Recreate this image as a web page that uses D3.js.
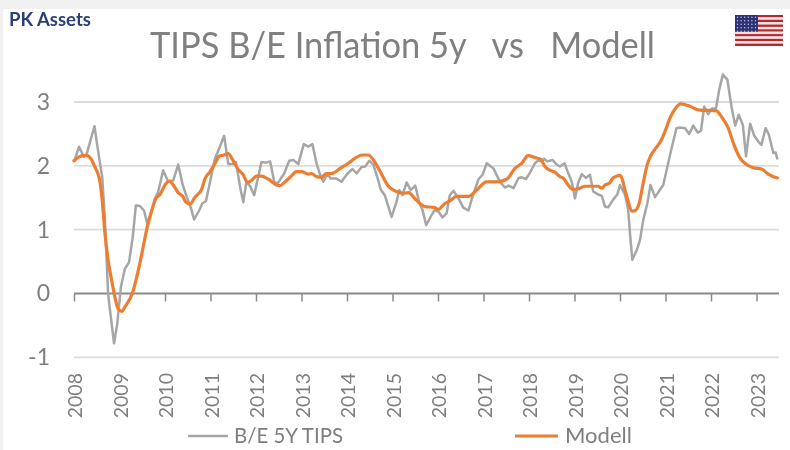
<!DOCTYPE html>
<html><head><meta charset="utf-8">
<script src="https://cdn.jsdelivr.net/npm/d3@7/dist/d3.min.js"></script>
<style>html,body{margin:0;padding:0;background:#fff}svg{display:block;filter:blur(0.35px)}text{font-family:Lato,"Open Sans",sans-serif}</style>
</head><body><svg id="c" width="790" height="450"></svg>
<script>
const yearLabels=[2008,2009,2010,2011,2012,2013,2014,2015,2016,2017,2018,2019,2020,2021,2022,2023];
const valueTicks=[-1,0,1,2,3];
const tipsDates=[2008.00,2008.11,2008.22,2008.28,2008.45,2008.56,2008.62,2008.68,2008.75,2008.81,2008.88,2008.95,2009.03,2009.12,2009.21,2009.29,2009.36,2009.45,2009.54,2009.61,2009.71,2009.78,2009.85,2009.96,2010.07,2010.18,2010.29,2010.39,2010.48,2010.56,2010.64,2010.75,2010.82,2010.90,2010.99,2011.10,2011.19,2011.30,2011.39,2011.49,2011.56,2011.65,2011.72,2011.79,2011.88,2011.96,2012.12,2012.22,2012.31,2012.40,2012.47,2012.62,2012.73,2012.82,2012.93,2013.05,2013.15,2013.24,2013.33,2013.41,2013.48,2013.57,2013.64,2013.77,2013.88,2013.99,2014.12,2014.21,2014.32,2014.40,2014.49,2014.58,2014.67,2014.74,2014.83,2014.98,2015.09,2015.15,2015.22,2015.31,2015.40,2015.50,2015.59,2015.66,2015.74,2015.86,2015.93,2016.01,2016.10,2016.19,2016.26,2016.34,2016.45,2016.56,2016.67,2016.76,2016.89,2016.98,2017.07,2017.22,2017.36,2017.47,2017.55,2017.66,2017.77,2017.84,2017.93,2018.02,2018.13,2018.21,2018.28,2018.33,2018.40,2018.52,2018.61,2018.68,2018.78,2018.86,2018.94,2019.01,2019.08,2019.16,2019.25,2019.34,2019.41,2019.52,2019.60,2019.67,2019.74,2019.85,2019.94,2020.00,2020.11,2020.18,2020.22,2020.27,2020.37,2020.44,2020.51,2020.60,2020.67,2020.77,2020.95,2021.10,2021.24,2021.32,2021.43,2021.52,2021.61,2021.71,2021.78,2021.85,2021.94,2022.02,2022.11,2022.18,2022.26,2022.36,2022.45,2022.53,2022.61,2022.70,2022.77,2022.86,2022.95,2023.04,2023.11,2023.20,2023.27,2023.37,2023.42,2023.46];
const tipsValues=[2.06,2.30,2.14,2.19,2.62,2.09,1.83,1.15,-0.01,-0.37,-0.78,-0.48,0.10,0.39,0.49,0.88,1.38,1.37,1.30,1.09,1.30,1.49,1.59,1.93,1.75,1.77,2.02,1.70,1.51,1.36,1.16,1.30,1.41,1.45,1.75,2.12,2.27,2.47,2.03,2.03,2.06,1.67,1.43,1.75,1.67,1.54,2.06,2.05,2.07,1.75,1.72,1.88,2.08,2.09,2.03,2.34,2.30,2.34,2.04,1.86,1.75,1.88,1.80,1.80,1.75,1.86,1.95,1.88,1.98,1.99,2.08,2.02,1.81,1.63,1.54,1.20,1.44,1.62,1.54,1.74,1.62,1.69,1.42,1.31,1.07,1.23,1.31,1.28,1.19,1.26,1.54,1.61,1.49,1.34,1.30,1.52,1.79,1.86,2.04,1.96,1.75,1.66,1.69,1.65,1.81,1.82,1.79,1.89,2.04,2.09,2.07,2.11,2.07,2.09,2.02,1.99,2.04,1.89,1.75,1.49,1.73,1.87,1.81,1.86,1.60,1.55,1.53,1.36,1.35,1.47,1.55,1.70,1.55,1.31,0.94,0.53,0.68,0.84,1.15,1.41,1.70,1.51,1.70,2.17,2.59,2.60,2.59,2.50,2.63,2.52,2.55,2.93,2.81,2.90,2.90,3.19,3.43,3.35,2.93,2.63,2.80,2.64,2.15,2.66,2.47,2.38,2.33,2.59,2.49,2.20,2.21,2.10];
const modelDates=[2008.00,2008.11,2008.22,2008.28,2008.39,2008.46,2008.56,2008.62,2008.68,2008.75,2008.83,2008.90,2008.97,2009.05,2009.12,2009.29,2009.38,2009.49,2009.61,2009.71,2009.80,2009.89,2010.00,2010.10,2010.18,2010.29,2010.39,2010.46,2010.55,2010.66,2010.81,2010.88,2010.99,2011.10,2011.19,2011.30,2011.39,2011.49,2011.61,2011.72,2011.81,2011.90,2012.01,2012.12,2012.27,2012.45,2012.53,2012.64,2012.75,2012.89,2013.00,2013.15,2013.22,2013.33,2013.44,2013.55,2013.66,2013.85,2014.03,2014.18,2014.32,2014.47,2014.58,2014.73,2014.91,2015.02,2015.24,2015.35,2015.50,2015.60,2015.71,2015.91,2016.01,2016.15,2016.26,2016.41,2016.67,2016.85,2017.07,2017.29,2017.51,2017.69,2017.84,2017.98,2018.13,2018.26,2018.35,2018.46,2018.57,2018.68,2018.75,2018.86,2018.97,2019.08,2019.23,2019.41,2019.52,2019.60,2019.67,2019.77,2019.85,2019.93,2020.01,2020.11,2020.18,2020.26,2020.33,2020.42,2020.51,2020.60,2020.67,2020.79,2020.89,2020.99,2021.10,2021.21,2021.33,2021.47,2021.58,2021.69,2021.83,2021.98,2022.12,2022.23,2022.38,2022.49,2022.64,2022.78,2022.93,2023.11,2023.26,2023.37,2023.46];
const modelValues=[2.08,2.14,2.16,2.16,2.09,1.98,1.79,1.46,0.94,0.52,0.20,-0.06,-0.24,-0.28,-0.21,0.02,0.26,0.62,1.04,1.30,1.49,1.55,1.70,1.76,1.70,1.58,1.52,1.43,1.40,1.51,1.64,1.80,1.91,2.04,2.15,2.17,2.19,2.09,1.94,1.86,1.74,1.77,1.84,1.84,1.79,1.70,1.69,1.75,1.82,1.91,1.91,1.87,1.88,1.83,1.82,1.88,1.88,1.96,2.04,2.12,2.17,2.17,2.09,1.91,1.68,1.62,1.57,1.58,1.48,1.41,1.36,1.35,1.32,1.41,1.45,1.52,1.52,1.62,1.75,1.75,1.79,1.96,2.04,2.16,2.13,2.10,1.99,1.93,1.90,1.83,1.81,1.70,1.63,1.64,1.68,1.68,1.68,1.65,1.70,1.73,1.81,1.84,1.85,1.62,1.44,1.29,1.30,1.41,1.73,2.02,2.15,2.28,2.38,2.54,2.75,2.89,2.97,2.95,2.92,2.88,2.87,2.87,2.86,2.77,2.59,2.36,2.12,2.02,1.97,1.95,1.87,1.83,1.81];
const seriesNames=["B/E 5Y TIPS","Modell"];
const titleText="TIPS B/E Inflation 5y   vs   Modell";
const logoText="PK Assets";
const flagStripes=d3.range(13);

const svg=d3.select("#c");
const x=d3.scaleLinear().domain([2008,2023]).range([74,756.5]);
const y=d3.scaleLinear().domain([-1,3]).range([357.3,102]);
const right=779;
const txt="#7f7f7f";

// window chrome
svg.append("rect").attr("width",790).attr("height",450).attr("fill","#fff");
svg.append("rect").attr("width",790).attr("height",9).attr("fill","#f1f1f1");
svg.append("rect").attr("width",3).attr("height",450).attr("fill","#f1f1f1");

// gridlines
svg.append("g").selectAll("line").data(valueTicks.filter(d=>d!==0)).join("line")
  .attr("x1",x(2008)).attr("x2",right).attr("y1",d=>y(d)).attr("y2",d=>y(d))
  .attr("stroke","#dcdcdc").attr("stroke-width",1.8);

// y axis labels
const ya=svg.append("g").attr("transform","translate(74,0)").call(d3.axisLeft(y).tickValues(valueTicks).tickSize(0).tickPadding(24).tickFormat(d=>String(d)));
ya.select(".domain").remove();
ya.selectAll("text").attr("fill",txt).attr("font-size",23).style("font-family","Lato");

// x axis on the zero line
const xa=svg.append("g").attr("transform",`translate(0,${y(0)})`).call(d3.axisBottom(x).tickValues(yearLabels).tickSize(8).tickFormat(""));
xa.select(".domain").attr("d",`M${x(2008)},0H${right}`).attr("stroke","#8a8a8a").attr("stroke-width",1.8);
xa.selectAll(".tick line").attr("stroke","#8a8a8a").attr("stroke-width",1.5);

// low year labels
const xl=svg.append("g").attr("transform","translate(0,367)").call(d3.axisBottom(x).tickValues(yearLabels).tickSize(0).tickFormat(d3.format("d")));
xl.select(".domain").remove();
xl.selectAll("text").attr("fill",txt).attr("font-size",19.5).attr("text-anchor","end")
  .attr("transform","rotate(-90)").attr("x",-6).attr("y",1).attr("dy","0.35em").style("font-family","Lato");

// series
const mk=(ds,vs)=>ds.map((d,i)=>[d,vs[i]]);
svg.append("path").datum(mk(tipsDates,tipsValues))
  .attr("d",d3.line().x(d=>x(d[0])).y(d=>y(d[1])))
  .attr("fill","none").attr("stroke","#a6a6a6").attr("stroke-width",2.5).attr("stroke-linejoin","round");
svg.append("path").datum(mk(modelDates,modelValues))
  .attr("d",d3.line().curve(d3.curveMonotoneX).x(d=>x(d[0])).y(d=>y(d[1])))
  .attr("fill","none").attr("stroke","#ed7d31").attr("stroke-width",3.2).attr("stroke-linecap","round").attr("stroke-linejoin","round");

// title & logo
svg.append("text").attr("x",150).attr("y",58).attr("font-size",37)
  .attr("textLength",505).attr("lengthAdjust","spacingAndGlyphs")
  .attr("fill","#808080").attr("xml:space","preserve").style("white-space","pre").text(titleText);
svg.append("text").attr("x",9).attr("y",26).attr("font-size",18.5).attr("font-weight",700).attr("fill","#2b3f78").text(logoText);

// legend
const lg=[[188,228,"#a6a6a6",2.5,234,109],[515,558,"#ed7d31",3.2,565,67]];
lg.forEach((l,i)=>{
  svg.append("line").attr("x1",l[0]).attr("x2",l[1]).attr("y1",436).attr("y2",436).attr("stroke",l[2]).attr("stroke-width",l[3]);
  svg.append("text").attr("x",l[4]).attr("y",443).attr("font-size",22).attr("textLength",l[5]).attr("lengthAdjust","spacingAndGlyphs").attr("fill",txt).text(seriesNames[i]);
});

// flag
const fx=735,fy=15,fw=48,fh=31;
const f=svg.append("g");
const sy=d3.scaleBand().domain(flagStripes).range([fy,fy+fh]);
f.selectAll("rect").data(flagStripes).join("rect").attr("x",fx).attr("width",fw).attr("y",d=>sy(d)).attr("height",sy.bandwidth())
  .attr("fill",d=>d%2?"#f3e3e3":"#b5282f");
f.append("rect").attr("x",fx).attr("y",fy).attr("width",23).attr("height",sy.bandwidth()*7).attr("fill","#2c3273");
for(let r=0;r<5;r++)for(let c=0;c<6;c++)
  f.append("circle").attr("cx",fx+2.5+c*3.6).attr("cy",fy+2.2+r*3.5).attr("r",0.7).attr("fill","#c9cbe6");
</script></body></html>
